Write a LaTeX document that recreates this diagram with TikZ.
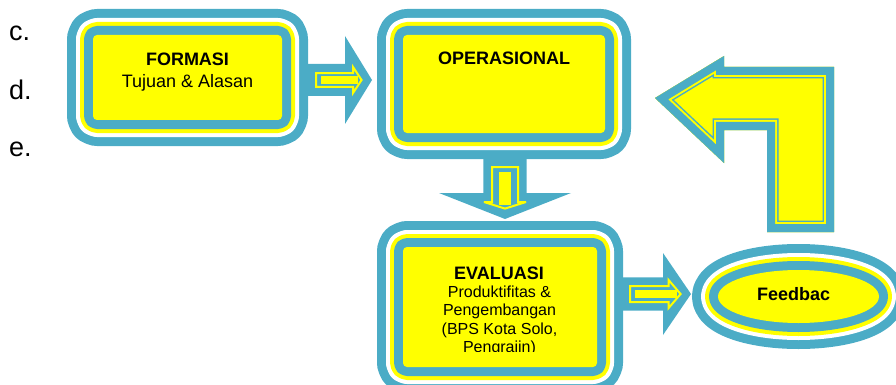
\documentclass[tikz,border=0pt]{standalone}
\usepackage{fontspec}
\setmainfont{Liberation Sans}
\usetikzlibrary{shapes.geometric,calc}
\definecolor{aqua}{HTML}{4BACC6}
\definecolor{lemon}{HTML}{FFFF00}

\tikzset{
  framed/.style={fill=lemon, draw=none, inner sep=0pt, outer sep=0pt,
    preaction={draw=aqua, line width=52pt, line join=round},
    preaction={draw=white, line width=34pt, line join=round},
    preaction={draw=lemon, line width=26pt, line join=round},
    preaction={draw=aqua, line width=18pt, line join=round}},
  panel/.style={framed, rectangle, rounded corners=4pt},
  oval/.style={framed, ellipse},
  title/.style={font=\fontsize{18}{20.7}\selectfont\bfseries, anchor=base, inner sep=0pt},
  body/.style={font=\fontsize{18}{20.7}\selectfont, anchor=base, inner sep=0pt},
  small/.style={font=\fontsize{16}{18.4}\selectfont, anchor=base, inner sep=0pt},
  marker/.style={font=\fontsize{27}{31}\selectfont, anchor=base west, inner sep=0pt},
}

% block arrow pointing along local x: length, shaft half, head half, head length,
% then the inner outlined arrow: shaft half, head half, head length
\newcommand\blockarrow[7]{%
  \fill[aqua] (0,-#2) -- (#1-#4,-#2) -- (#1-#4,-#3) -- (#1,0) -- (#1-#4,#3)
    -- (#1-#4,#2) -- (0,#2) -- cycle;
  \filldraw[fill=aqua, draw=lemon, line width=2pt, miter limit=4]
    (8,-#5+1) -- (#1-9-#7,-#5+1) -- (#1-9-#7,-#6+1) -- (#1-10.4,0)
    -- (#1-9-#7,#6-1) -- (#1-9-#7,#5-1) -- (8,#5-1) -- cycle;
  \fill[lemon] (13,-0.45*#5) rectangle (#1-14,0.45*#5);
}

\def\bentpath{(655,98) -- (724,56) -- (724,67) -- (834,67) -- (834,232)
  -- (767,232) -- (767,130) -- (724,130) -- (724,163) -- cycle}

\begin{document}
\begin{tikzpicture}[x=1pt, y=-1pt]
\useasboundingbox (0,0) rectangle (896,385);

% framed stages
\node[panel, minimum width=189pt, minimum height=85pt] (formasi) at (187.5,77.5) {};
\node[panel, minimum width=202pt, minimum height=98pt] (operasional) at (504,84) {};
\node[panel, minimum width=194pt, minimum height=120pt] (evaluasi) at (500,307) {};
\node[oval, minimum width=161pt, minimum height=53pt] (feedback) at (798.5,296.5) {};

% block arrows between the stages
\begin{scope}[shift={($(formasi.east)+(26,2.5)$)}]
  \blockarrow{64}{16}{44}{27}{7.8}{14}{10}
\end{scope}
\begin{scope}[shift={($(operasional.south)+(1,26)$)}, rotate=-90]
  \blockarrow{60}{21.7}{66}{26}{14}{22}{8}
\end{scope}
\begin{scope}[shift={($(evaluasi.east)+(25,-13)$)}]
  \blockarrow{69}{16.7}{41}{28}{9}{15}{13.4}
\end{scope}

% bent arrow returning from feedback to operasional
\begin{scope}
  \clip \bentpath;
  \fill[lemon] \bentpath;
  \draw[aqua, line width=23pt, miter limit=10] \bentpath;
  \draw[lemon, line width=20pt, miter limit=10] \bentpath;
  \draw[aqua, line width=16pt, miter limit=10] \bentpath;
\end{scope}

% labels
\node[title] (formasiT) at (187.5,66) {FORMASI};
\node[body] (formasiB) at (187.5,87.3) {Tujuan \& Alasan};
\node[title] (operT) at (504,65) {OPERASIONAL};
\node[title] (evalT) at (499,279) {EVALUASI};
\begin{scope}
  \clip (403,247) rectangle (597,351);
  \node[small] (evalA) at (499.5,297.5) {Produktifitas \&};
  \node[small] (evalB) at (499.5,315.9) {Pengembangan};
  \node[small] (evalC) at (499.5,334.3) {(BPS Kota Solo,};
  \node[small] (evalD) at (499.5,352.7) {Pengrajin)};
\end{scope}
\node[title] (fbT) at (793.7,300.7) {Feedbac};

\node[marker] (mc) at (9,40.5) {c.};
\node[marker] (md) at (9,99.5) {d.};
\node[marker] (me) at (9,157) {e.};
\end{tikzpicture}
\end{document}
